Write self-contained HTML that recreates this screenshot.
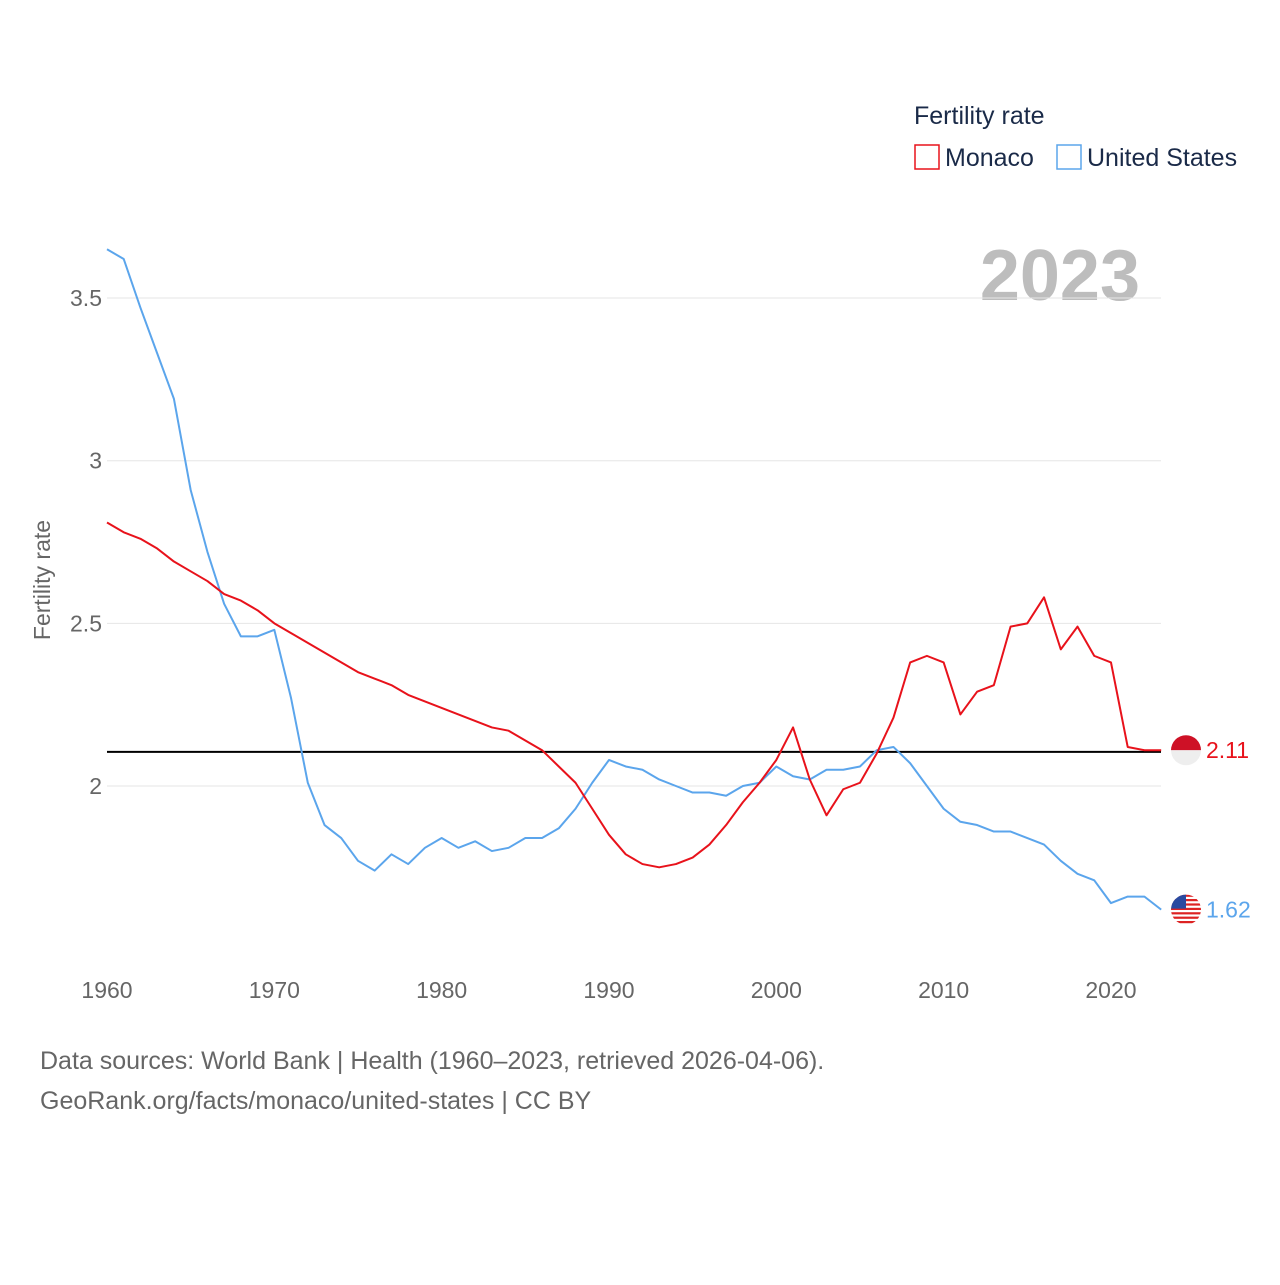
<!DOCTYPE html>
<html><head><meta charset="utf-8"><style>
body{margin:0;background:#fff;font-family:"Liberation Sans",sans-serif}
</style></head><body>
<svg id="chart" width="1280" height="1280" xmlns="http://www.w3.org/2000/svg" font-family="Liberation Sans, sans-serif">
<g>
<text x="914" y="124" font-size="25" fill="#1a2a48">Fertility rate</text>
<rect x="915" y="145" width="24" height="24" fill="none" stroke="#e8121b" stroke-width="1.5"/>
<text x="945" y="166" font-size="25" fill="#1a2a48">Monaco</text>
<rect x="1057" y="145" width="24" height="24" fill="none" stroke="#5ba5ec" stroke-width="1.5"/>
<text x="1087" y="166" font-size="25" fill="#1a2a48">United States</text>
</g>
<text x="1140" y="300" font-size="72" font-weight="bold" fill="#bdbdbd" text-anchor="end">2023</text>
<text transform="translate(50,580) rotate(-90)" font-size="23" fill="#666" text-anchor="middle">Fertility rate</text>
<g id="grid"></g><g id="series"></g>
<text x="40" y="1069" font-size="25" fill="#666">Data sources: World Bank | Health (1960–2023, retrieved 2026-04-06).</text>
<text x="40" y="1109" font-size="25" fill="#666">GeoRank.org/facts/monaco/united-states | CC BY</text>
</svg>
<script>
const years=[];for(let y=1960;y<=2023;y++)years.push(y);
const usValues=[3.65,3.62,3.47,3.33,3.19,2.91,2.72,2.56,2.46,2.46,2.48,2.27,2.01,1.88,1.84,1.77,1.74,1.79,1.76,1.81,1.84,1.81,1.83,1.80,1.81,1.84,1.84,1.87,1.93,2.01,2.08,2.06,2.05,2.02,2.00,1.98,1.98,1.97,2.00,2.01,2.06,2.03,2.02,2.05,2.05,2.06,2.11,2.12,2.07,2.00,1.93,1.89,1.88,1.86,1.86,1.84,1.82,1.77,1.73,1.71,1.64,1.66,1.66,1.62];
const monacoValues=[2.81,2.78,2.76,2.73,2.69,2.66,2.63,2.59,2.57,2.54,2.50,2.47,2.44,2.41,2.38,2.35,2.33,2.31,2.28,2.26,2.24,2.22,2.20,2.18,2.17,2.14,2.11,2.06,2.01,1.93,1.85,1.79,1.76,1.75,1.76,1.78,1.82,1.88,1.95,2.01,2.08,2.18,2.02,1.91,1.99,2.01,2.10,2.21,2.38,2.40,2.38,2.22,2.29,2.31,2.49,2.50,2.58,2.42,2.49,2.40,2.38,2.12,2.11,2.11];
const yTicks=[2,2.5,3,3.5];
const xTicks=[1960,1970,1980,1990,2000,2010,2020];
const replacementRate=2.105;
const NS="http://www.w3.org/2000/svg";
const X=y=>107+(y-1960)*16.733;
const Y=v=>786-(v-2)*325.3;
function mk(tag,attrs,parent,text){const e=document.createElementNS(NS,tag);for(const k in attrs)e.setAttribute(k,attrs[k]);if(text!==undefined)e.textContent=text;parent.appendChild(e);return e;}
const grid=document.getElementById('grid'),ser=document.getElementById('series');
yTicks.forEach(t=>{
 const l=mk('line',{x1:107,x2:1161,y1:Y(t),y2:Y(t),stroke:'#e6e6e6'},grid);
 
 
 const tx=mk('text',{x:102,y:Y(t)+8,'font-size':23,fill:'#666','text-anchor':'end'},grid,String(t));
 
 
});
xTicks.forEach(t=>{
 const tx=mk('text',{x:X(t),y:998,'font-size':23,fill:'#666','text-anchor':'middle'},grid,String(t));
 
 
});
const rl=mk('line',{x1:107,x2:1161,y1:Y(replacementRate),y2:Y(replacementRate),stroke:'#000','stroke-width':2},ser);


function line(vals,color,name){
 const p=mk('polyline',{points:vals.map((v,i)=>X(years[i])+','+Y(v)).join(' '),fill:'none',stroke:color,'stroke-width':2,'stroke-linejoin':'round'},ser);
 
 
}
line(usValues,'#5ba5ec','us-line');
line(monacoValues,'#e8121b','monaco-line');
// end markers
const mv=monacoValues[monacoValues.length-1],uv=usValues[usValues.length-1];
const mg=mk('g',{},ser);


const my=Y(mv);
mk('path',{d:`M1171 ${my} a15 15 0 0 1 30 0 z`,fill:'#ce1126'},mg);
mk('path',{d:`M1171 ${my} a15 15 0 0 0 30 0 z`,fill:'#eee'},mg);
const ml=mk('text',{x:1206,y:my+8,'font-size':23,fill:'#e8121b'},ser,mv.toFixed(2));


const ug=mk('g',{},ser);


const uy=Y(uv);
mk('clipPath',{id:'uc'},ug);mk('circle',{cx:1186,cy:uy,r:15},ug.lastChild);
const inner=mk('g',{'clip-path':'url(#uc)'},ug);
mk('rect',{x:1171,y:uy-15,width:30,height:30,fill:'#fff'},inner);
for(let i=0;i<7;i++)mk('rect',{x:1171,y:uy-15+i*4.4,width:30,height:2.2,fill:'#d22'},inner);
mk('rect',{x:1171,y:uy-15,width:15,height:14,fill:'#2a4aa0'},inner);
const ul=mk('text',{x:1206,y:uy+8,'font-size':23,fill:'#5ba5ec'},ser,uv.toFixed(2));


</script>
</body></html>
